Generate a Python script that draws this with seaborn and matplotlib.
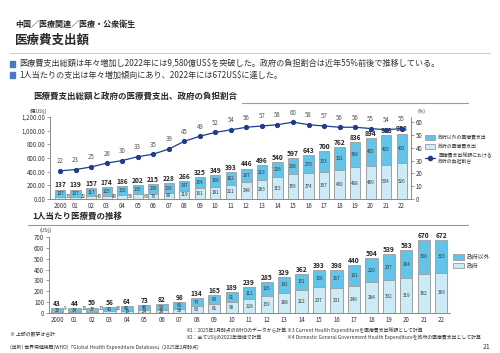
import numpy as np
import pandas as pd
import matplotlib
matplotlib.use("Agg")
import matplotlib.pyplot as plt
import seaborn as sns
from matplotlib.patches import Patch, Rectangle
from matplotlib.lines import Line2D

# data
years = ["2000", "01", "02", "03", "04", "05", "06", "07", "08", "09", "10", "11",
         "12", "13", "14", "15", "16", "17", "18", "19", "20", "21", "22"]
total_exp = [137, 139, 157, 174, 186, 202, 215, 228, 266, 325, 349, 393,
             446, 496, 540, 597, 643, 700, 762, 836, 894, 933, 958]
gov_exp = [30, 32, 40, 49, 56, 66, 79, 89, 119, 161, 181, 211,
           248, 283, 315, 359, 374, 397, 430, 468, 489, 504, 526]
nongov_exp = [107, 107, 117, 125, 130, 135, 136, 139, 147, 164, 168, 182,
              197, 213, 226, 238, 270, 303, 332, 368, 405, 429, 432]
gov_share = [22, 23, 25, 28, 30, 33, 35, 39, 45, 49, 52, 54,
             56, 57, 58, 60, 58, 57, 56, 56, 55, 54, 55]

pc_total = [43, 44, 50, 56, 64, 73, 82, 98, 134, 165, 189, 239,
            285, 329, 362, 393, 398, 440, 504, 539, 583, 670, 672]
pc_gov = [9, 10, 13, 16, 19, 24, 28, 38, 60, 81, 98, 128,
          159, 188, 212, 237, 231, 249, 284, 302, 319, 362, 369]
pc_nongov = [33, 34, 37, 40, 45, 48, 53, 60, 74, 83, 91, 111,
             126, 141, 151, 156, 167, 191, 220, 237, 264, 308, 303]

sns.set_theme(style="white")
plt.rcParams['font.family'] = ['Noto Sans CJK JP', 'DejaVu Sans']

C_DARK = "#63C4EA"
C_LIGHT = "#CDEBF7"
C_EDGE = "#9C9C9C"
C_LINE = "#1F3D8C"
C_TXT = "#333333"

W, H = 500, 353
fig = plt.figure(figsize=(5, 3.53), dpi=100)


def fx(x):
    return x / W


def fy(y):
    return 1 - y / H


def hline(y, x0, x1, color="#BBBBBB", lw=0.8):
    fig.add_artist(Line2D([fx(x0), fx(x1)], [fy(y), fy(y)], color=color, lw=lw))


# header
fig.text(fx(15), fy(24), "中国／医療関連／医療・公衆衛生", fontsize=5.8, weight="bold", va="center")
fig.text(fx(15), fy(40), "医療費支出額", fontsize=9, weight="bold", va="center")
hline(53, 10, 490, color="#D0D0D0", lw=0.8)
bullets = ["医療費支出総額は年々増加し2022年には9,580億US$を突破した。政府の負担割合は近年55%前後で推移している。",
           "1人当たりの支出は年々増加傾向にあり、2022年には672US$に達した。"]
for k, b in enumerate(bullets):
    yy = 64 + k * 11
    fig.add_artist(Rectangle((fx(10), fy(yy + 2.5)), fx(5), 5 / H, color="#4A78C2"))
    fig.text(fx(19), fy(yy), b, fontsize=5.9, va="center", color=C_TXT)

# section titles
fig.text(fx(33), fy(96), "医療費支出総額と政府の医療費支出、政府の負担割合", fontsize=6.1, weight="bold", va="center")
hline(103, 242, 468, color="#999999", lw=0.8)
fig.text(fx(32), fy(216), "1人当たり医療費の推移", fontsize=6.1, weight="bold", va="center")
hline(225, 28, 468, color="#999999", lw=0.8)


def stacked(ax, total, lower, upper, width, xlim, label_min, beside_y):
    df = pd.DataFrame({"year": years, "total": total, "lower": lower})
    sns.barplot(data=df, x="year", y="total", order=years, color=C_DARK, edgecolor=C_EDGE,
                linewidth=0.6, width=width, saturation=1, errorbar=None, ax=ax)
    sns.barplot(data=df, x="year", y="lower", order=years, color=C_LIGHT, edgecolor=C_EDGE,
                linewidth=0.6, width=width, saturation=1, errorbar=None, ax=ax)
    ymax = ax.get_ylim()[1]
    for i, (t, lo, up) in enumerate(zip(total, lower, upper)):
        ax.text(i, t + ymax * 0.015, str(t), ha="center", va="bottom", fontsize=4.8,
                weight="bold", color="#222222", clip_on=False)
        ax.text(i, lo + (t - lo) / 2, str(up), ha="center", va="center", fontsize=3.3, color=C_TXT)
        if lo >= label_min:
            ax.text(i, lo / 2, str(lo), ha="center", va="center", fontsize=3.3, color=C_TXT)
        else:
            ax.text(i + width / 2 + 0.03, beside_y, str(lo), ha="left", va="center",
                    fontsize=3.3, color=C_TXT)
    ax.set_xlim(*xlim)
    ax.set_xlabel("")
    ax.set_ylabel("")
    ax.set_xticks(np.arange(len(years)) + 0.5, minor=True)
    ax.tick_params(axis="x", which="major", length=0, labelsize=4.4, pad=2, colors=C_TXT)
    ax.tick_params(axis="x", which="minor", length=1.5, width=0.5, color="#777777", direction="out")
    ax.tick_params(axis="y", length=2, width=0.5, labelsize=4.4, pad=1.5, colors=C_TXT, color="#777777",
                   direction="out", left=True)
    for s in ["top", "right"]:
        ax.spines[s].set_visible(False)
    for s in ["left", "bottom"]:
        ax.spines[s].set_color("#777777")
        ax.spines[s].set_linewidth(0.6)


# ---- top chart ----
ax1 = fig.add_axes([fx(50), fy(199), fx(411 - 50), (199 - 117) / H])
ax1.set_ylim(0, 1200)
stacked(ax1, total_exp, gov_exp, nongov_exp, 0.66, (-0.65, 22.6), 70, 40)
ax1.set_ylim(0, 1200)
ax1.set_yticks(np.arange(0, 1201, 200))
ax1.set_yticklabels([f"{v:,.2f}" for v in range(0, 1201, 200)])
fig.text(fx(30), fy(111), "(億US$)", fontsize=3.5, color=C_TXT, va="center")

ax2 = ax1.twinx()
line_df = pd.DataFrame({"pos": np.arange(len(years)), "share": gov_share})
sns.lineplot(data=line_df, x="pos", y="share", color=C_LINE, marker="o", markersize=3,
             markeredgecolor=C_LINE, linewidth=0.9, ax=ax2)
for i, v in enumerate(gov_share):
    ax2.annotate(str(v), (i, v), xytext=(0, 4), textcoords="offset points", ha="center",
                 va="bottom", fontsize=4.4, color="#555555")
ax2.set_ylim(0, 64)
ax2.set_yticks(np.arange(0, 61, 10))
ax2.set_xlim(-0.65, 22.6)
ax2.set_ylabel("")
ax2.set_xlabel("")
ax2.tick_params(axis="y", length=2, width=0.5, labelsize=4.4, pad=1.5, colors=C_TXT, color="#777777",
                direction="out", right=True)
for s in ["top", "left", "bottom"]:
    ax2.spines[s].set_visible(False)
ax2.spines["right"].set_color("#777777")
ax2.spines["right"].set_linewidth(0.6)
fig.text(fx(417), fy(111), "(%)", fontsize=3.5, color=C_TXT, va="center")

h_top = [Patch(facecolor=C_DARK, edgecolor=C_EDGE, linewidth=0.6),
         Patch(facecolor=C_LIGHT, edgecolor=C_EDGE, linewidth=0.6),
         Line2D([], [], color=C_LINE, marker="o", markersize=3, linewidth=0.9)]
l_top = ["政府以外の医療費支出", "政府の医療費支出", "医療費支出総額における\n政府の負担割合"]
fig.legend(h_top, l_top, loc="upper left", bbox_to_anchor=(fx(425), fy(135)), frameon=False,
           fontsize=3.5, handlelength=2.1, handleheight=1.1, labelspacing=0.75,
           handletextpad=0.6, borderpad=0, borderaxespad=0, labelcolor=C_TXT)

# ---- bottom chart ----
ax3 = fig.add_axes([fx(49), fy(313), fx(450 - 49), (313 - 237) / H])
ax3.set_ylim(0, 700)
stacked(ax3, pc_total, pc_gov, pc_nongov, 0.7, (-0.46, 22.46), 18, 45)
ax3.set_ylim(0, 700)
ax3.set_yticks(np.arange(0, 701, 100))
fig.text(fx(40), fy(230), "(US$)", fontsize=3.5, color=C_TXT, va="center")

h_bot = [Patch(facecolor=C_DARK, edgecolor=C_EDGE, linewidth=0.6),
         Patch(facecolor=C_LIGHT, edgecolor=C_EDGE, linewidth=0.6)]
fig.legend(h_bot, ["政府以外", "政府"], loc="upper left", bbox_to_anchor=(fx(453), fy(254)),
           frameon=False, fontsize=4.2, handlelength=1.8, handleheight=1.1, labelspacing=0.5,
           handletextpad=0.5, borderpad=0, borderaxespad=0, labelcolor=C_TXT)

# footnotes
fs = 3.5
fig.text(fx(10), fy(334), "※ 上部の数字は合計", fontsize=fs, color=C_TXT, va="center")
fig.text(fx(185), fy(330), "※1：2025年1月時点のWHOのデータから計算", fontsize=fs, color=C_TXT, va="center")
fig.text(fx(185), fy(337), "※2：全てUS$の2022年価値で計算", fontsize=fs, color=C_TXT, va="center")
fig.text(fx(287), fy(330), "※3 Current Health Expenditureを医療費支出総額として計算", fontsize=fs,
         color=C_TXT, va="center")
fig.text(fx(287), fy(337), "※4 Domestic General Government Health Expenditureを政府の医療費支出として計算",
         fontsize=fs, color=C_TXT, va="center")
fig.text(fx(10), fy(347), "(出所) 世界保健機関(WHO)「Global Health Expenditure Database」(2025年2月時点)",
         fontsize=fs, color=C_TXT, va="center")
fig.text(fx(490), fy(347), "21", fontsize=5, color=C_TXT, va="center", ha="right")

fig.savefig("out.png", dpi=100)
